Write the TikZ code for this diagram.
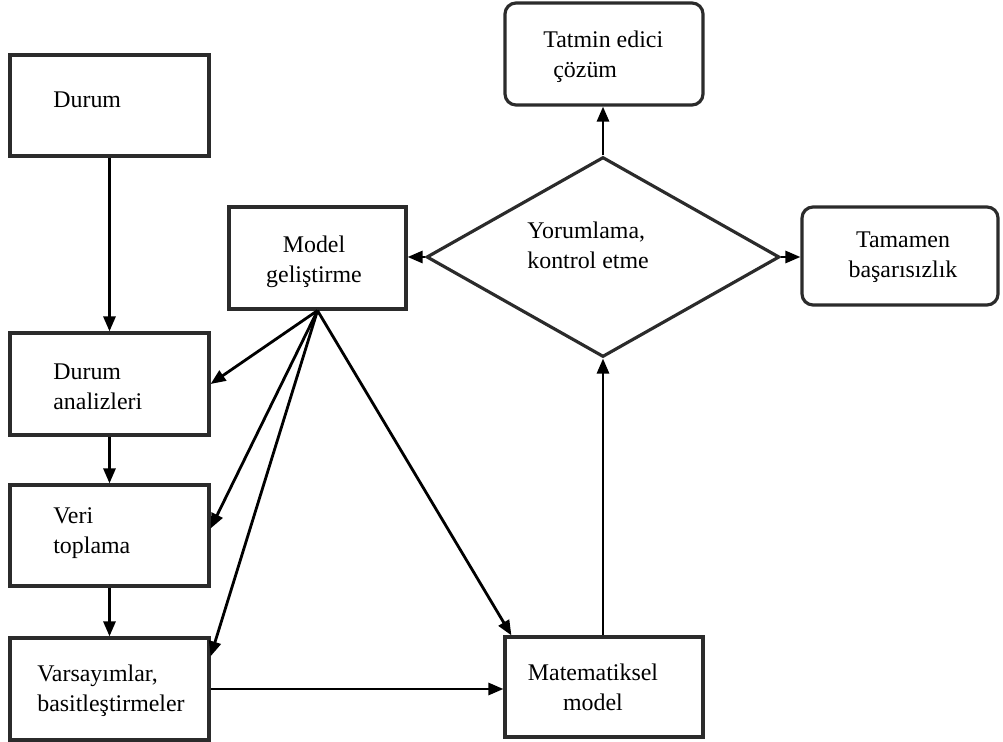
\documentclass[tikz,border=0pt]{standalone}
\usepackage{fontspec}
\setmainfont{Liberation Serif}
\usetikzlibrary{arrows.meta,fit,shapes.geometric,calc}
\definecolor{edge}{HTML}{2B2B2B}
\begin{document}
\begin{tikzpicture}[x=0.02cm,y=-0.02cm,
  box/.style={draw=edge,line width=1.8pt,inner sep=0pt,fill=white},
  rbox/.style={box,rounded corners=0.22cm},
  txt/.style={inner sep=0pt,font=\fontsize{13.6pt}{17pt}\selectfont,text=black},
  flow/.style={draw=black,line width=1.6pt,-{Triangle[length=0.3cm,width=0.24cm]}}]
\useasboundingbox (0,0) rectangle (1003,742);

% left column
\node[box,fit={(10,55) (209,156)}] (durum) {};
\node[box,fit={(10,333) (209,435)}] (analiz) {};
\node[box,fit={(10,485) (209,586)}] (veri) {};
\node[box,fit={(10,638) (209,740)}] (varsay) {};

% middle and right
\node[box,fit={(229,207) (406,309)}] (model) {};
\node[box,fit={(505,637) (703,737)}] (matem) {};
\node[rbox,fit={(505,3) (703,105)}] (tatmin) {};
\node[rbox,fit={(802,207) (998,305)}] (tamamen) {};
\node[diamond,draw=edge,line width=1.8pt,inner sep=0pt,
      minimum width=7.06cm,minimum height=4cm] (yorum) at (603,257) {};

% labels
\node[txt,anchor=west] (tdurum) at (53,100) {Durum};
\node[txt,anchor=west,align=left] (tanaliz) at (53,387) {Durum\\analizleri};
\node[txt,anchor=west,align=left] (tveri) at (53,533) {Veri\\toplama};
\node[txt,anchor=west,align=left] (tvarsay) at (37,691) {Varsayımlar,\\basitleştirmeler};
\node[txt,align=center] (tmodel) at (314,262) {Model\\geliştirme};
\node[txt,anchor=west,align=left] (ttatmin) at (543,57) {Tatmin edici\\\hspace*{0.2cm}çözüm};
\node[txt,align=center] (tmatem) at (593,687) {Matematiksel\\model};
\node[txt,align=center] (ttamamen) at (903,257) {Tamamen\\başarısızlık};
\node[txt,anchor=west,align=left] (tyorum) at (527,245) {Yorumlama,\\kontrol etme};

% connectors
\draw[flow] (durum.south) -- (analiz.north);
\draw[flow] (analiz.south) -- (veri.north);
\draw[flow] (veri.south) -- (varsay.north);
\draw[flow] (varsay.east) -- (varsay.east -| matem.west);
\draw[flow] (matem.north -| yorum.south) -- (yorum.south);
\draw[flow] (yorum.north) -- (tatmin.south -| yorum.north);
\draw[flow] (yorum.west) -- (model.east |- yorum.west);
\draw[flow] (yorum.east) -- (tamamen.west |- yorum.east);

\draw[flow] (model.south) -- (analiz.east);
\draw[flow] (model.south) -- ([yshift=0.14cm]veri.east);
\draw[flow] (model.south) -- ([yshift=-0.4cm]varsay.north east);
\draw[flow] (model.south) -- ([xshift=0.16cm]matem.north west);
\end{tikzpicture}
\end{document}
